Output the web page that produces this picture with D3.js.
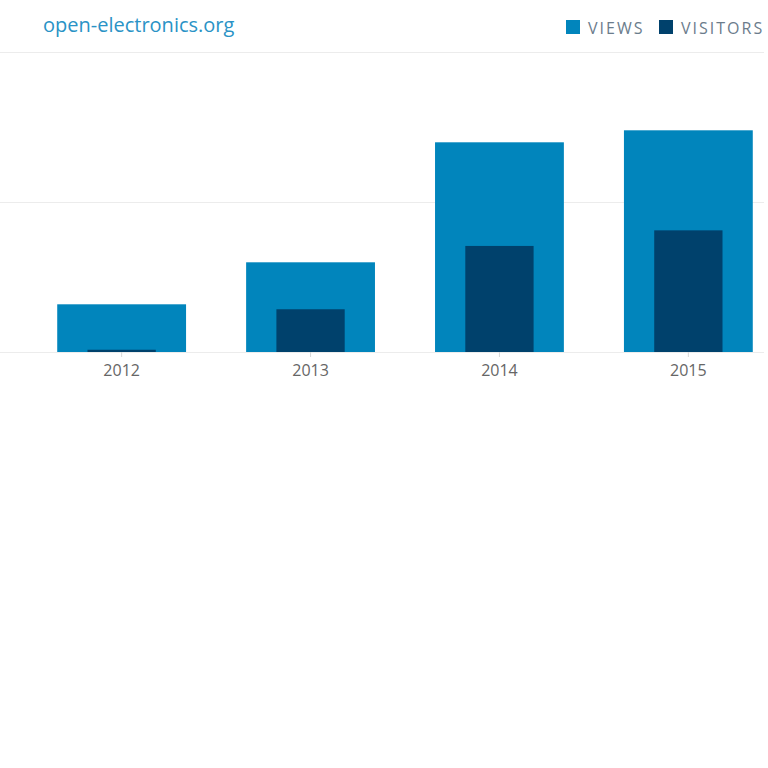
<!DOCTYPE html>
<html>
<head>
<meta charset="utf-8">
<script src="https://cdn.jsdelivr.net/npm/d3@7"></script>
<style>
  body { margin: 0; background: #fff; }
  svg { display: block; font-family: "Open Sans", sans-serif; }
</style>
</head>
<body>
<div class="canvas"></div>
<script>
const years = ['2012', '2013', '2014', '2015'];
const views = [31800, 59800, 139800, 147800];
const visitors = [1500, 28500, 70700, 81100];
const gridTicks = [0, 100000, 200000];

const dims = { width: 768, height: 768 };
const plot = { top: 52, bottom: 352, left: 27, right: 783 };

const svg = d3.select('.canvas')
    .append('svg')
    .attr('width', dims.width)
    .attr('height', dims.height);

const x = d3.scaleBand()
    .domain(years)
    .range([plot.left, plot.right])
    .paddingInner(0.318)
    .paddingOuter(0.16);

const y = d3.scaleLinear()
    .domain([0, 200000])
    .range([plot.bottom, plot.top]);

// grid lines
svg.append('g')
    .selectAll('line')
    .data(gridTicks)
    .enter()
    .append('line')
    .attr('x1', 0)
    .attr('x2', 764)
    .attr('y1', d => Math.round(y(d)) + 0.5)
    .attr('y2', d => Math.round(y(d)) + 0.5)
    .attr('stroke', '#ececec')
    .attr('stroke-width', 1);

const data = years.map((yr, i) => ({ year: yr, views: views[i], visitors: visitors[i] }));

// views bars
svg.append('g')
    .selectAll('rect')
    .data(data)
    .enter()
    .append('rect')
    .attr('x', d => x(d.year))
    .attr('y', d => y(d.views))
    .attr('width', x.bandwidth())
    .attr('height', d => y(0) - y(d.views))
    .attr('fill', '#0185bc');

// visitors bars, narrower, centred
const inner = x.bandwidth() * 0.53;
svg.append('g')
    .selectAll('rect')
    .data(data)
    .enter()
    .append('rect')
    .attr('x', d => x(d.year) + (x.bandwidth() - inner) / 2)
    .attr('y', d => y(d.visitors))
    .attr('width', inner)
    .attr('height', d => y(0) - y(d.visitors))
    .attr('fill', '#00416c');

// x axis
const xAxis = d3.axisBottom(x).tickSize(5).tickPadding(8);
const gx = svg.append('g')
    .attr('transform', `translate(0, ${plot.bottom})`)
    .call(xAxis);
gx.select('.domain').remove();
gx.selectAll('.tick line').attr('stroke', '#d8d8d8');
gx.selectAll('.tick text')
    .attr('fill', '#666')
    .style('font-size', '16px')
    .style('font-family', '"Open Sans", sans-serif');

// title
svg.append('text')
    .attr('x', 43)
    .attr('y', 32)
    .attr('fill', '#2a93c6')
    .style('font-size', '20px')
    .text('open-electronics.org');

// legend
const legend = [
    { name: 'VIEWS', colour: '#0185bc', x: 566 },
    { name: 'VISITORS', colour: '#00416c', x: 659 }
];
const lg = svg.append('g')
    .selectAll('g')
    .data(legend)
    .enter()
    .append('g')
    .attr('transform', d => `translate(${d.x}, 20)`);
lg.append('rect')
    .attr('width', 14)
    .attr('height', 14)
    .attr('fill', d => d.colour);
lg.append('text')
    .attr('x', 22)
    .attr('y', 14)
    .attr('fill', '#6b7c8c')
    .style('font-size', '16px')
    .style('letter-spacing', '2px')
    .text(d => d.name);
</script>
</body>
</html>
